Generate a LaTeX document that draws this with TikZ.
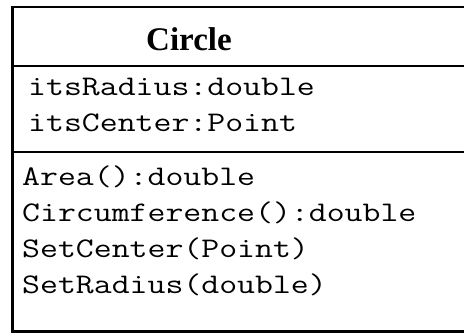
\documentclass[tikz,border=0pt]{standalone}
\usepackage{fontspec}
\setmainfont{Liberation Serif}
\setmonofont[FakeStretch=1.225]{Latin Modern Mono}
\begin{document}
\begin{tikzpicture}[x=1pt,y=-1pt,
  border/.style={line width=2.6pt, draw=black},
  sep/.style={line width=2.4pt, draw=black},
  member/.style={anchor=base west, inner sep=0pt, font=\fontsize{28.4}{36}\selectfont\ttfamily},
  title/.style={anchor=base, inner sep=0pt, font=\fontsize{33}{40}\selectfont\bfseries}]
\useasboundingbox (0,0) rectangle (464,333);
\fill[white] (0,0) rectangle (464,333);
% class box (right edge lies outside the picture)
\draw[border] (470,7) -- (12.5,7) -- (12.5,331.5) -- (470,331.5);
\draw[sep] (12.5,66) -- (470,66);
\draw[sep] (12.5,152) -- (470,152);
\node[title] (name) at (189,50) {Circle};
\node[member] (a1) at (28,95) {itsRadius:double};
\node[member] (a2) at (28,131) {itsCenter:Point};
\node[member] (o1) at (22,185) {Area():double};
\node[member] (o2) at (22,221) {Circumference():double};
\node[member] (o3) at (22,257) {SetCenter(Point)};
\node[member] (o4) at (22,293) {SetRadius(double)};
\end{tikzpicture}
\end{document}
